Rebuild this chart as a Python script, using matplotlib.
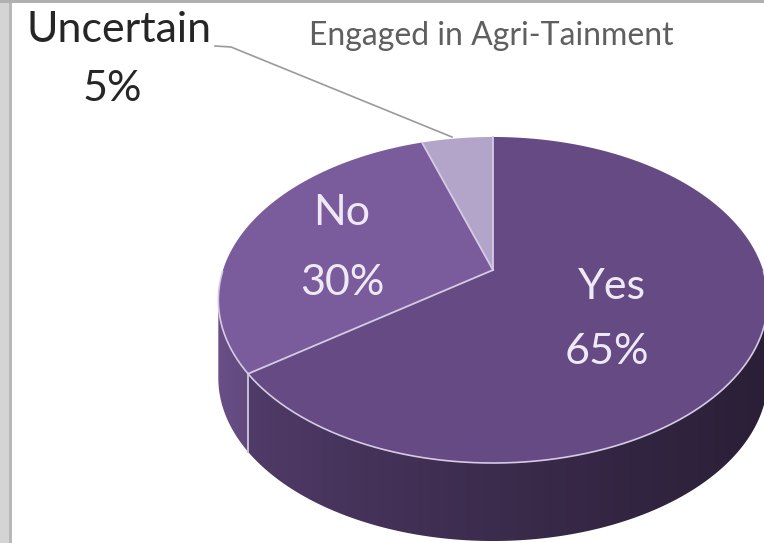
import numpy as np
import matplotlib
matplotlib.use("Agg")
import matplotlib.pyplot as plt
from matplotlib.patches import Polygon, Rectangle
from matplotlib import rcParams

rcParams['font.family'] = ['Lato', 'DejaVu Sans']

# slices, counter-clockwise from 12 o'clock
labels = ["Uncertain", "No", "Yes"]
shares = [5, 30, 65]
top_colors = ["#b3a5c9", "#7a5c9d", "#654a83"]
title = "Engaged in Agri-Tainment"

# pie geometry, in pixels
cx, cy = 493, 270
rx, ry = 270, 157.5
k = 0.184      # perspective squeeze of the far half
depth = 78
start = 90.0


def project(theta_deg, drop=0.0):
    t = np.radians(theta_deg)
    u, v = np.cos(t), np.sin(t)
    s = 1 + k * v
    return cx + rx * u / s, cy - ry * v / s + drop


fig = plt.figure(figsize=(7.64, 5.43), dpi=100)
ax = fig.add_axes([0, 0, 1, 1])
ax.axis("off")

# slice angle ranges
bounds = np.concatenate([[0], np.cumsum(shares)]) / sum(shares) * 360 + start
spans = list(zip(bounds[:-1], bounds[1:]))

# visible front of the rim, between the silhouette points
side_l = 180 + np.degrees(np.arcsin(k))
side_r = 360 - np.degrees(np.arcsin(k))
xl = project(side_l)[0]
xr = project(side_r)[0]

# horizontal shading of the rim: lighter on the left, dark on the right
gx = np.linspace(xl, xr, 400)
frac = (gx - xl) / (xr - xl)
shade = 0.86 - 0.44 * frac ** 0.7

for (t0, t1), col in zip(spans, top_colors):
    base = np.array(matplotlib.colors.to_rgb(col))
    for off in (0, 360):
        a0, a1 = max(t0, side_l + off), min(t1, side_r + off)
        if a1 <= a0:
            continue
        ts = np.linspace(a0, a1, 200)
        xs, ys = project(ts)
        xb, yb = project(ts[::-1], depth)
        rim = Polygon(np.column_stack([np.r_[xs, xb], np.r_[ys, yb]]),
                      closed=True, facecolor="none", edgecolor="none")
        ax.add_patch(rim)
        grad = np.clip(base[None, None, :] * shade[None, :, None], 0, 1)
        im = ax.imshow(grad, extent=[xl, xr, cy + ry / (1 - k) + depth + 5, cy - 5],
                       aspect="auto", interpolation="bilinear", zorder=1)
        im.set_clip_path(rim)
        # seams where slices meet on the rim
        for edge in (t0, t1):
            if side_l + off < edge < side_r + off:
                x0, y0 = project(edge)
                ax.plot([x0, x0], [y0, y0 + depth], color="#c9bcdc", lw=1.2, zorder=2)

ax.set_xlim(0, 764)
ax.set_ylim(543, 0)

# top face
for (t0, t1), col in zip(spans, top_colors):
    ts = np.linspace(t0, t1, 200)
    xs, ys = project(ts)
    ax.add_patch(Polygon(np.column_stack([np.r_[cx, xs], np.r_[cy, ys]]),
                         closed=True, facecolor=col, edgecolor="none", zorder=3))

# slice divider lines
for t in bounds[:-1]:
    x1, y1 = project(t)
    ax.plot([cx, x1], [cy, y1], color="#d6cbe5", lw=1.3, zorder=4)

# light rim line along the front of the top face
ts = np.linspace(side_l - 10, side_r + 10, 300)
xs, ys = project(ts)
ax.plot(xs, ys, color="#d6cbe5", lw=1.2, zorder=4)

# labels on the slices
inside = dict(color="#efe9f6", fontsize=31, ha="center", va="center", zorder=5)
ax.text(342, 213, "No", **inside)
ax.text(342, 283, "30%", **inside)
ax.text(612, 287, "Yes", **inside)
ax.text(607, 352, "65%", **inside)

# outside label with leader line
ax.text(119, 30, "Uncertain", color="#262626", fontsize=31, ha="center", va="center")
ax.text(112, 89, "5%", color="#262626", fontsize=31, ha="center", va="center")
ax.plot([215, 231, 452], [46, 47, 137], color="#9a9a9a", lw=1.2)

ax.text(491, 36, title, color="#5f5f5f", fontsize=23, ha="center", va="center")

# frame strips
ax.add_patch(Rectangle((0, 0), 10, 543, facecolor="#d4d4d4", edgecolor="none", zorder=6))
ax.add_patch(Rectangle((9, 0), 3, 543, facecolor="#b8b8b8", edgecolor="none", zorder=6))
ax.add_patch(Rectangle((0, 0), 764, 3, facecolor="#b0b0b0", edgecolor="none", zorder=6))

fig.savefig("out.png", dpi=100)
